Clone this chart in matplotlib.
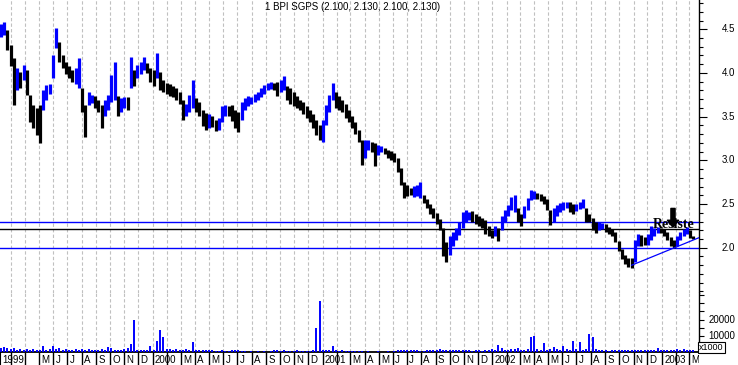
import numpy as np
import pandas as pd
import matplotlib
matplotlib.use("Agg")
import matplotlib.pyplot as plt
import matplotlib.dates as mdates
import matplotlib.transforms as mtransforms
from matplotlib.ticker import FixedLocator

plt.rcParams['font.family'] = ['Liberation Sans', 'DejaVu Sans']

# ---------------- data ----------------
title = "1 BPI SGPS (2.100, 2.130, 2.100, 2.130)"
first_week = "1999-02-08"          # weekly bars

week_high = [
    4.56, 4.58, 4.49, 4.32, 4.17, 4.06, 4.01, 4.09, 4.03, 3.75,
    3.63, 3.60, 3.63, 3.81, 3.86, 3.87, 4.21, 4.52, 4.35, 4.21,
    4.13, 4.08, 4.03, 4.06, 4.17, 3.83, 3.63, 3.78, 3.75, 3.74,
    3.69, 3.63, 3.69, 3.75, 3.98, 4.13, 3.74, 3.71, 3.73, 3.73,
    4.18, 4.03, 4.09, 4.13, 4.18, 4.11, 4.06, 4.03, 4.23, 4.01,
    3.92, 3.89, 3.87, 3.85, 3.83, 3.78, 3.69, 3.65, 3.75, 3.92,
    3.71, 3.67, 3.58, 3.54, 3.53, 3.51, 3.46, 3.49, 3.62, 3.63,
    3.62, 3.63, 3.58, 3.55, 3.67, 3.71, 3.74, 3.73, 3.76, 3.78,
    3.83, 3.86, 3.89, 3.90, 3.89, 3.90, 3.92, 3.97, 3.85, 3.83,
    3.78, 3.74, 3.69, 3.67, 3.62, 3.58, 3.53, 3.46, 3.41, 3.46,
    3.63, 3.75, 3.89, 3.78, 3.74, 3.69, 3.65, 3.58, 3.51, 3.44,
    3.35, 3.23, 3.23, 3.23, 3.21, 3.20, 3.18, 3.16, 3.14, 3.12,
    3.11, 3.08, 3.03, 2.91, 2.75, 2.72, 2.68, 2.71, 2.72, 2.75,
    2.60, 2.56, 2.50, 2.46, 2.40, 2.33, 2.23, 2.07, 2.13, 2.18,
    2.23, 2.30, 2.41, 2.43, 2.41, 2.42, 2.39, 2.36, 2.34, 2.32,
    2.25, 2.20, 2.25, 2.23, 2.36, 2.43, 2.49, 2.58, 2.60, 2.46,
    2.39, 2.48, 2.57, 2.66, 2.65, 2.63, 2.62, 2.59, 2.56, 2.43,
    2.46, 2.49, 2.51, 2.52, 2.52, 2.52, 2.50, 2.50, 2.52, 2.56,
    2.46, 2.39, 2.34, 2.30, 2.30, 2.28, 2.27, 2.24, 2.22, 2.18,
    2.08, 1.99, 1.92, 1.88, 1.88, 2.09, 2.16, 2.15, 2.12, 2.16,
    2.25, 2.23, 2.24, 2.23, 2.22, 2.18, 2.12, 2.09, 2.14, 2.18,
    2.22, 2.24, 2.20, 2.13,
]
week_low = [
    4.41, 4.44, 4.26, 4.08, 3.63, 3.81, 3.83, 3.92, 3.75, 3.44,
    3.37, 3.29, 3.20, 3.58, 3.69, 3.76, 3.94, 4.29, 4.13, 4.06,
    3.99, 3.94, 3.90, 3.87, 3.83, 3.55, 3.27, 3.63, 3.66, 3.60,
    3.55, 3.37, 3.51, 3.58, 3.67, 3.69, 3.51, 3.55, 3.60, 3.58,
    3.83, 3.85, 3.94, 3.99, 4.03, 4.00, 3.90, 3.85, 3.94, 3.81,
    3.78, 3.76, 3.74, 3.73, 3.69, 3.65, 3.46, 3.51, 3.55, 3.60,
    3.55, 3.51, 3.39, 3.35, 3.37, 3.38, 3.34, 3.35, 3.44, 3.51,
    3.51, 3.45, 3.37, 3.33, 3.46, 3.58, 3.62, 3.65, 3.67, 3.69,
    3.73, 3.76, 3.81, 3.82, 3.81, 3.74, 3.78, 3.81, 3.69, 3.65,
    3.62, 3.60, 3.58, 3.53, 3.49, 3.44, 3.37, 3.29, 3.23, 3.21,
    3.41, 3.55, 3.69, 3.60, 3.58, 3.55, 3.49, 3.44, 3.37, 3.30,
    3.21, 2.95, 3.03, 3.12, 3.10, 2.94, 3.06, 3.10, 3.07, 3.03,
    3.00, 2.98, 2.87, 2.72, 2.57, 2.59, 2.60, 2.58, 2.59, 2.57,
    2.51, 2.46, 2.39, 2.34, 2.27, 2.20, 1.91, 1.84, 1.92, 2.02,
    2.09, 2.15, 2.23, 2.30, 2.32, 2.30, 2.27, 2.25, 2.23, 2.16,
    2.14, 2.11, 2.14, 2.08, 2.20, 2.30, 2.36, 2.43, 2.41, 2.30,
    2.25, 2.34, 2.43, 2.55, 2.56, 2.56, 2.54, 2.50, 2.43, 2.26,
    2.30, 2.36, 2.41, 2.43, 2.46, 2.41, 2.39, 2.42, 2.44, 2.46,
    2.30, 2.30, 2.20, 2.17, 2.20, 2.22, 2.18, 2.16, 2.14, 2.06,
    1.96, 1.87, 1.81, 1.78, 1.77, 1.84, 2.02, 2.02, 2.03, 2.03,
    2.09, 2.14, 2.17, 2.17, 2.14, 2.09, 2.02, 2.00, 2.02, 2.09,
    2.14, 2.16, 2.11, 2.10,
]
week_volume_k = [   # thousands of shares (axis unit shown as x1000)
    2.5, 3, 2.5, 2, 2.5, 1.5, 2, 1.5, 2, 1.5,
    2, 1.5, 1.5, 4, 1.5, 2, 4, 2, 2.5, 1.5,
    2, 1.5, 1.5, 2, 1.5, 2, 1.5, 2, 1.5, 1,
    1.5, 2, 1.5, 3, 2.5, 1.5, 1, 1.5, 2, 2.5,
    5, 19.5, 1.5, 1, 1, 1.5, 4, 1, 7, 13.5,
    9, 2, 2, 1.5, 2, 1.5, 1.5, 2, 1.5, 6,
    1.5, 1, 1, 1.5, 1, 1, 0.5, 0.5, 1, 0.5,
    0.5, 1, 1.5, 1, 0.5, 0.5, 0, 0.5, 0, 0.5,
    0, 0.5, 0, 0.5, 1, 1, 0.5, 1, 0.5, 0.5,
    0.5, 1, 0.5, 0.5, 0.5, 0.5, 1, 14.5, 31.5, 1,
    1, 1, 3.5, 1, 0.5, 1, 0.5, 0.5, 0.5, 0.5,
    0.5, 0.5, 0, 0.5, 0, 0, 0.5, 0, 0, 0.5,
    0, 0.5, 1, 1.5, 1, 1, 1, 1.5, 1, 0.5,
    0.5, 1, 1, 1, 1.5, 2, 1.5, 1.5, 1.5, 1,
    1, 1, 1.5, 1, 1, 0.5, 1, 1, 0.5, 1,
    1, 2, 1, 4.5, 2.5, 1, 1, 2, 2, 2.5,
    1.5, 1, 2, 9, 10, 2, 1.5, 5.5, 1.5, 2,
    3, 2, 1.5, 4, 2, 1.5, 7, 2, 6, 1.5,
    2, 11, 9.5, 2, 1.5, 1, 1, 0.5, 1, 1,
    1.5, 1, 1, 1.5, 1, 1.5, 1, 1, 1.5, 1,
    1.5, 1, 2.5, 1, 1, 1.5, 1, 1.5, 2, 1.5,
    2, 1.5, 1.5, 1,
]

level_prices = [2.295, 2.215, 2.0]
level_colors = ['#0000ff', 'black', '#0000ff']
trend_dates = ['2002-10-28', '2003-03-22']
trend_prices = [1.80, 2.115]

view_start, view_end = '1999-02-06', '2003-03-22'
price_limits = (1.482, 4.835)
volume_limits = (0, 36400)
price_major = [2.0, 2.5, 3.0, 3.5, 4.0, 4.5]
price_minor = [round(1.5 + 0.1 * k, 1) for k in range(34)]
volume_major = [10000, 20000]
volume_minor = [5000, 15000, 25000, 30000, 35000]
month_letters = ['J', 'F', 'M', 'A', 'M', 'J', 'J', 'A', 'S', 'O', 'N', 'D']
first_month, last_month = '1999-03-01', '2003-03-01'

# ---------------- figure ----------------
W, H = 738, 365
fig = plt.figure(figsize=(W / 100, H / 100), dpi=100)


def rect(x0, y0, x1, y1):
    return [x0 / W, 1 - y1 / H, (x1 - x0) / W, (y1 - y0) / H]


ax_p = fig.add_axes(rect(0, 0, 699, 293))
ax_v = fig.add_axes(rect(0, 293, 699, 352), sharex=ax_p)
ax_d = fig.add_axes(rect(0, 352, 699, 365), sharex=ax_p)

BLUE = '#0000ff'
GRID = '#c0c0c0'

dates = pd.date_range(first_week, periods=len(week_high), freq='7D')
xd = mdates.date2num(dates)
hi = np.array(week_high)
lo = np.array(week_low)
mid = (hi + lo) / 2
cols = [BLUE] + [BLUE if mid[i] >= mid[i - 1] else 'black' for i in range(1, len(mid))]

months = pd.date_range(first_month, last_month, freq='MS')
mx = mdates.date2num(months)

for ax in (ax_p, ax_v):
    ax.set_facecolor('white')
    ax.vlines(mx, 0, 1, transform=ax.get_xaxis_transform(), colors=GRID,
              linestyles=(0, (3, 2)), linewidth=0.8, zorder=0)
    for s in ('top', 'left', 'bottom'):
        ax.spines[s].set_visible(False)
    ax.spines['right'].set_linewidth(1.0)
    ax.yaxis.tick_right()
    ax.tick_params(axis='x', which='both', bottom=False, labelbottom=False)

# price panel
ax_p.vlines(xd, lo, hi, colors=cols, linewidth=2.3, zorder=3)
for p, c in zip(level_prices, level_colors):
    ax_p.axhline(p, color=c, linewidth=1.0, zorder=2)
ax_p.plot(mdates.date2num(pd.to_datetime(trend_dates)), trend_prices,
          color=BLUE, linewidth=0.9, zorder=4)
ax_p.set_ylim(*price_limits)
ax_p.yaxis.set_major_locator(FixedLocator(price_major))
ax_p.yaxis.set_minor_locator(FixedLocator(price_minor))
ax_p.tick_params(axis='y', which='major', length=5.8, width=0.8, labelright=False, labelleft=False)
ax_p.tick_params(axis='y', which='minor', length=3.2, width=0.8)

txt_x = mdates.date2num(pd.Timestamp('2002-12-12'))
ax_p.text(txt_x, 2.222, 'Resiste', family=['Liberation Serif', 'DejaVu Serif'],
          fontsize=10, fontweight='bold', color='black', va='baseline', ha='left', zorder=6)
arr_x = mdates.date2num(pd.Timestamp('2003-01-25'))
ax_p.annotate('', xy=(arr_x, 2.235), xytext=(arr_x, 2.45),
              arrowprops=dict(width=3.0, headwidth=8.0, headlength=5.0,
                              color='black', shrink=0.0), zorder=7)

# volume panel
ax_v.vlines(xd, 0, np.array(week_volume_k) * 1000, colors=BLUE, linewidth=1.4, zorder=3)
ax_v.set_ylim(*volume_limits)
ax_v.spines['bottom'].set_visible(True)
ax_v.spines['bottom'].set_linewidth(1.3)
ax_v.yaxis.set_major_locator(FixedLocator(volume_major))
ax_v.yaxis.set_minor_locator(FixedLocator(volume_minor))
ax_v.tick_params(axis='y', which='both', length=3.6, width=0.8, labelright=False, labelleft=False)

ax_p.set_xlim(mdates.date2num(pd.Timestamp(view_start)), mdates.date2num(pd.Timestamp(view_end)))

# right-hand labels (right aligned like the reference)
tp = mtransforms.blended_transform_factory(fig.transFigure, ax_p.transData)
for v in price_major:
    fig.text(735 / W, v, f"{v:.1f}", transform=tp, ha='right', va='center', fontsize=7)
tv = mtransforms.blended_transform_factory(fig.transFigure, ax_v.transData)
for v in volume_major:
    fig.text(735 / W, v, f"{v}", transform=tv, ha='right', va='center', fontsize=7)
fig.text(711.5 / W, 1 - 347.5 / H, 'x1000', ha='center', va='center', fontsize=6.5,
         bbox=dict(boxstyle='square,pad=0.1', fc='white', ec='black', lw=0.8))

# date strip
ax_d.set_ylim(0, 1)
ax_d.axis('off')
ax_d.vlines(mx, 0, 1, colors='black', linewidth=1.0, clip_on=True)
ax_d.vlines([mdates.date2num(pd.Timestamp(view_start))], 0, 1, colors='black', linewidth=1.5)
lab_tr = mtransforms.offset_copy(ax_d.transData, fig=fig, x=1.6, y=0, units='points')
ax_d.text(mdates.date2num(pd.Timestamp(view_start)), 0.42, str(pd.Timestamp(first_month).year),
          transform=lab_tr, fontsize=7, va='center', ha='left', clip_on=True)
for m, xm in zip(months, mx):
    if m.month == 1:
        s = str(m.year)
    elif m.month == 2 or (m.year == 1999 and m.month in (3, 4)):
        continue
    else:
        s = month_letters[m.month - 1]
    ax_d.text(xm, 0.42, s, transform=lab_tr, fontsize=7, va='center', ha='left', clip_on=True)

fig.text(265 / W, 1 - 2.5 / H, title, ha='left', va='top', fontsize=7)

fig.savefig('out.png', dpi=100, facecolor='white')
